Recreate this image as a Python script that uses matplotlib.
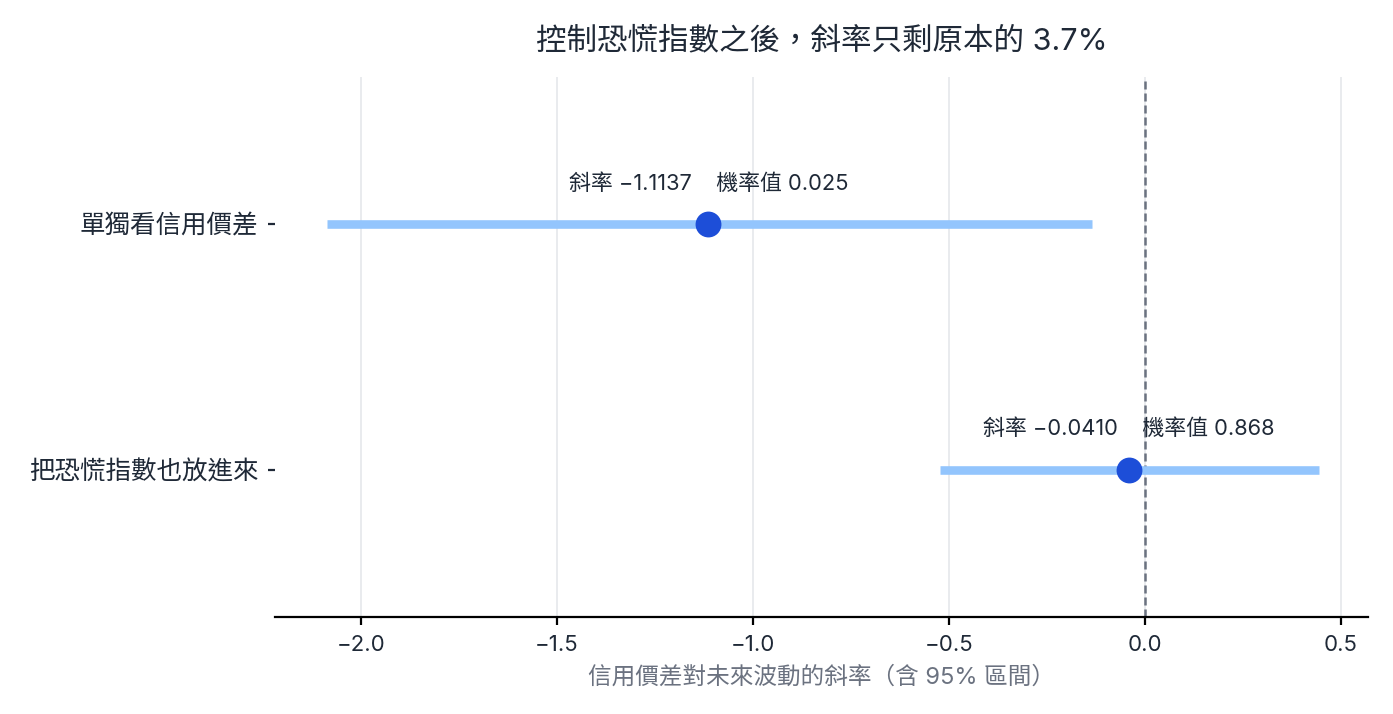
import matplotlib
matplotlib.use("Agg")
import matplotlib.pyplot as plt

labels = ["單獨看信用價差", "把恐慌指數也放進來"]
slopes = [-1.1137, -0.0410]
ci_low = [-2.087, -0.523]
ci_high = [-0.135, 0.444]
pvalues = ["0.025", "0.868"]
xticks = [-2.0, -1.5, -1.0, -0.5, 0.0, 0.5]
title = "控制恐慌指數之後，斜率只剩原本的 3.7%"
xlabel = "信用價差對未來波動的斜率（含 95% 區間）"

plt.rcParams['font.family'] = ['Inter', 'Noto Sans CJK TC', 'DejaVu Sans']
plt.rcParams['axes.unicode_minus'] = True

fig = plt.figure(figsize=(6.965, 3.57), dpi=200)
ax = fig.add_axes([0.1974, 0.136, 0.7846, 0.756])

dark = "#1f2937"
ypos = list(range(len(labels)))
for y, s, lo, hi, p in zip(ypos, slopes, ci_low, ci_high, pvalues):
    ax.plot([lo, hi], [y, y], color="#93c5fd", lw=3.1, solid_capstyle="butt", zorder=2)
    ax.plot([s], [y], "o", color="#1d4ed8", markersize=8.3, zorder=3)
    ax.annotate(f"斜率 {s:.4f}".replace("-", "−") + f"    機率值 {p}",
                xy=(s, y), xytext=(0, 14.8), textcoords="offset points",
                ha="center", va="center", fontsize=7.9, color=dark)

ax.axvline(0, color="#6b7280", lw=0.9, ls=(0, (3.2, 1.6)), zorder=1)
ax.set_xlim(-2.219, 0.569)
ax.set_ylim(1.6, -0.6)
ax.set_yticks(ypos)
ax.set_yticklabels(labels, fontsize=9.2, color=dark)
ax.set_xticks(xticks)
ax.set_xticklabels([f"{t:.1f}".replace("-", "−") for t in xticks], fontsize=8, color=dark)
ax.tick_params(axis="y", length=2.5, width=0.8, colors=dark, pad=3.5)
ax.tick_params(axis="x", length=3.0, width=0.8, colors="black", pad=3.5)
for lab in ax.get_xticklabels() + ax.get_yticklabels():
    lab.set_color(dark)
ax.grid(axis="x", color="#e5e7eb", lw=0.6)
ax.set_axisbelow(True)
for sp in ["top", "right", "left"]:
    ax.spines[sp].set_visible(False)
ax.spines["bottom"].set_linewidth(0.8)
ax.set_xlabel(xlabel, fontsize=8.5, color="#6b7280", labelpad=4)
ax.set_title(title, fontsize=11, color=dark, pad=10)

fig.savefig("out.png", dpi=200)
